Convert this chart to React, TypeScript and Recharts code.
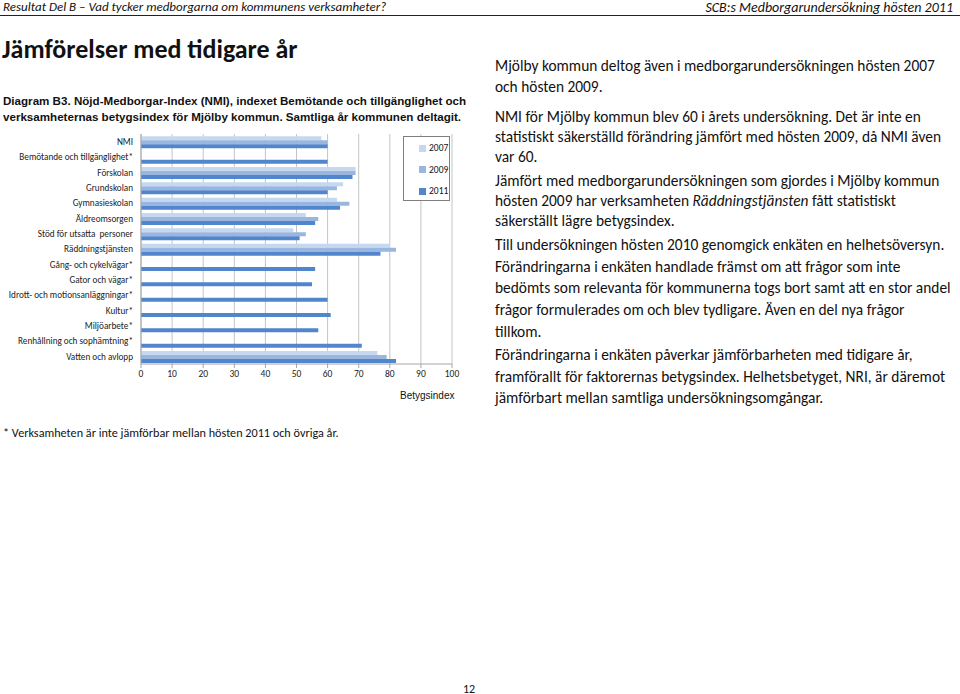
import { BarChart, Bar, XAxis, YAxis, CartesianGrid } from "recharts";

const categories = [
  "NMI",
  "Bemötande och tillgänglighet*",
  "Förskolan",
  "Grundskolan",
  "Gymnasieskolan",
  "Äldreomsorgen",
  "Stöd för utsatta  personer",
  "Räddningstjänsten",
  "Gång- och cykelvägar*",
  "Gator och vägar*",
  "Idrott- och motionsanläggningar*",
  "Kultur*",
  "Miljöarbete*",
  "Renhållning och sophämtning*",
  "Vatten och avlopp",
];

const v2007 = [58, null, 69, 65, 63, 53, 49, 80, null, null, null, null, null, null, 76];
const v2009 = [60, null, 69, 63, 67, 57, 53, 82, null, null, null, null, null, null, 79];
const v2011 = [60, 60, 68, 60, 64, 56, 51, 77, 56, 55, 60, 61, 57, 71, 82];

const xTicks = [0, 10, 20, 30, 40, 50, 60, 70, 80, 90, 100];

const series = [
  { key: "y2007", name: "2007", color: "#c6d8f0" },
  { key: "y2009", name: "2009", color: "#99b6df" },
  { key: "y2011", name: "2011", color: "#5286cc" },
];

const rows = categories.map((c, i) => ({
  name: c,
  y2007: v2007[i],
  y2009: v2009[i],
  y2011: v2011[i],
}));

const rightText = [
  { t: "Mjölby kommun deltog även i medborgarundersökningen hösten 2007", y: 56 },
  { t: "och hösten 2009.", y: 77 },
  { t: "NMI för Mjölby kommun blev 60 i årets undersökning. Det är inte en", y: 107 },
  { t: "statistiskt säkerställd förändring jämfört med hösten 2009, då NMI även", y: 127 },
  { t: "var 60.", y: 147 },
  { t: "Jämfört med medborgarundersökningen som gjordes i Mjölby kommun", y: 171 },
  { t: "hösten 2009 har verksamheten |Räddningstjänsten| fått statistiskt", y: 191 },
  { t: "säkerställt lägre betygsindex.", y: 211 },
  { t: "Till undersökningen hösten 2010 genomgick enkäten en helhetsöversyn.", y: 235 },
  { t: "Förändringarna i enkäten handlade främst om att frågor som inte", y: 257 },
  { t: "bedömts som relevanta för kommunerna togs bort samt att en stor andel", y: 278 },
  { t: "frågor formulerades om och blev tydligare. Även en del nya frågor", y: 300 },
  { t: "tillkom.", y: 322 },
  { t: "Förändringarna i enkäten påverkar jämförbarheten med tidigare år,", y: 345 },
  { t: "framförallt för faktorernas betygsindex. Helhetsbetyget, NRI, är däremot", y: 367 },
  { t: "jämförbart mellan samtliga undersökningsomgångar.", y: 388 },
];

const bodyFont = "Carlito, Calibri, Lato, 'Open Sans', sans-serif";

function renderLine(t: string) {
  const parts = t.split("|");
  return parts.map((p, i) => (i % 2 === 1 ? <i key={i}>{p}</i> : <span key={i}>{p}</span>));
}

function CatTick(props: any) {
  const { x, y, payload } = props;
  return (
    <text x={x} y={y} dy={3.3} textAnchor="end" fontSize={9.2} fill="#222" fontFamily={bodyFont} style={{ whiteSpace: "pre" }}>
      {payload.value}
    </text>
  );
}

export default function App() {
  return (
    <div style={{ position: "relative", width: 960, height: 694, background: "#fff", overflow: "hidden", fontFamily: bodyFont, color: "#111" }}>
      <style>{`body{margin:0}`}</style>
      <div style={{ position: "absolute", left: 3, top: -1, fontSize: 13, fontStyle: "italic", whiteSpace: "nowrap" }}>
        Resultat Del B – Vad tycker medborgarna om kommunens verksamheter?
      </div>
      <div style={{ position: "absolute", right: 7, top: -1, fontSize: 14, fontStyle: "italic", whiteSpace: "nowrap" }}>
        SCB:s Medborgarundersökning hösten 2011
      </div>
      <div style={{ position: "absolute", left: 0, top: 15, width: 960, height: 1, background: "#222" }} />
      <div style={{ position: "absolute", left: 2, top: 33, fontSize: 26, fontWeight: 700, whiteSpace: "nowrap" }}>
        Jämförelser med tidigare år
      </div>
      <div style={{ position: "absolute", left: 3, top: 93, fontSize: 11.6, fontWeight: 700, fontFamily: "'Liberation Sans', Arial, sans-serif", lineHeight: "16px", whiteSpace: "nowrap" }}>
        Diagram B3. Nöjd-Medborgar-Index (NMI), indexet Bemötande och tillgänglighet och
        <br />
        verksamheternas betygsindex för Mjölby kommun. Samtliga år kommunen deltagit.
      </div>

      <div style={{ position: "absolute", left: 0, top: 120 }}>
        <BarChart
          width={470}
          height={300}
          data={rows}
          layout="vertical"
          margin={{ top: 14, right: 18, left: 0, bottom: 0 }}
          barCategoryGap="15%"
          barGap={0}
        >
          <CartesianGrid horizontal={false} vertical stroke="#c4c4c4" />
          <XAxis
            type="number"
            domain={[0, 100]}
            ticks={xTicks}
            height={56}
            tickSize={4}
            tickLine={{ stroke: "#a6a6a6" }}
            axisLine={{ stroke: "#a6a6a6" }}
            tick={{ fontSize: 9.5, fill: "#222", fontFamily: bodyFont }}
          />
          <YAxis
            type="category"
            dataKey="name"
            width={141}
            interval={0}
            tickLine={false}
            axisLine={{ stroke: "#a6a6a6" }}
            tick={<CatTick />}
          />
          {series.map((s) => (
            <Bar key={s.key} dataKey={s.key} name={s.name} fill={s.color} isAnimationActive={false} />
          ))}
        </BarChart>
      </div>

      <div style={{ position: "absolute", left: 403, top: 136, width: 45, height: 63, border: "1px solid #7f7f7f", background: "#fff", fontSize: 9.5 }}>
        {series.map((s, i) => (
          <div key={s.key} style={{ position: "absolute", left: 15, top: 5 + i * 21.5, display: "flex", alignItems: "center", whiteSpace: "nowrap" }}>
            <span style={{ display: "inline-block", width: 7, height: 7, background: s.color, marginRight: 3 }} />
            {s.name}
          </div>
        ))}
      </div>
      <div style={{ position: "absolute", left: 400, top: 390, fontSize: 10, fontFamily: "'Liberation Sans', Arial, sans-serif" }}>Betygsindex</div>

      {rightText.map((l, i) => (
        <div key={i} style={{ position: "absolute", left: 495, top: l.y, fontSize: 15.4, whiteSpace: "nowrap" }}>
          {renderLine(l.t)}
        </div>
      ))}

      <div style={{ position: "absolute", left: 3, top: 425, fontSize: 12.2, whiteSpace: "nowrap" }}>
        * Verksamheten är inte jämförbar mellan hösten 2011 och övriga år.
      </div>
      <div style={{ position: "absolute", left: 463, top: 682, fontSize: 12 }}>12</div>
    </div>
  );
}
